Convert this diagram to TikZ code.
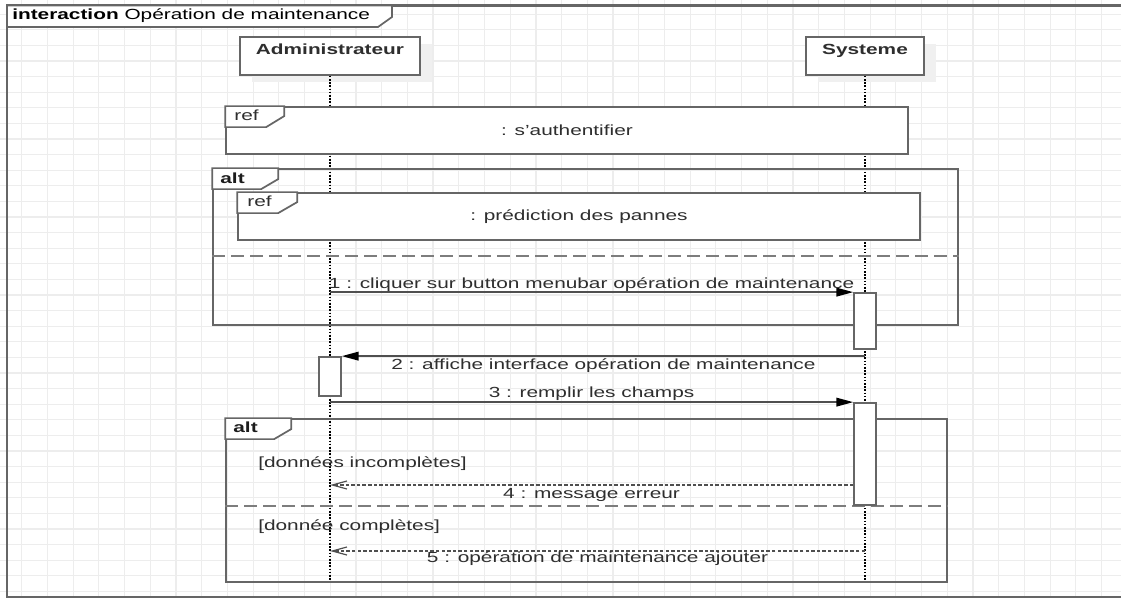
\documentclass[tikz,border=0pt]{standalone}
\usepackage{fontspec}
\setmainfont{Liberation Sans}[FakeStretch=1.42]
\usetikzlibrary{arrows.meta,calc,shadows}

\definecolor{gridgray}{HTML}{EDEDED}
\definecolor{linegray}{HTML}{666666}
\definecolor{msggray}{HTML}{4F4F4F}
\definecolor{txtgray}{HTML}{2E2E2E}
\definecolor{shadowgray}{HTML}{F0F0F0}

\begin{document}
\begin{tikzpicture}[
  x=0.75pt, y=-0.75pt,
  every node/.style={text=txtgray, font=\fontsize{11}{13}\selectfont},
  gridline/.style={draw=gridgray, line width=0.9pt},
  outerframe/.style={draw=linegray, line width=1.6pt},
  headbox/.style={draw=linegray, line width=1.3pt, fill=white, inner sep=0pt,
    text height=13.1pt, text depth=15.4pt, minimum height=28.5pt,
    font=\fontsize{11}{13}\selectfont\bfseries,
    drop shadow={shadow xshift=9pt, shadow yshift=-5.25pt, fill=shadowgray, opacity=1}},
  lifeline/.style={draw=black, line width=1.1pt, dash pattern=on 1.2pt off 1.2pt},
  refbox/.style={draw=linegray, line width=1.3pt, fill=white, inner sep=0pt,
    minimum width=511.5pt, minimum height=35.25pt},
  altbox/.style={draw=linegray, line width=1.3pt, inner sep=0pt},
  tabline/.style={draw=linegray, line width=1.3pt, fill=white},
  separator/.style={draw=linegray!85, line width=1.1pt, dash pattern=on 9.75pt off 4.5pt},
  actbox/.style={draw=linegray, line width=1.3pt, fill=white, inner sep=0pt, minimum width=16.5pt},
  callmsg/.style={draw=msggray, line width=1pt, -{Triangle[length=12.5pt,width=6.5pt,black]}},
  replymsg/.style={draw=msggray, line width=0.9pt, dash pattern=on 2.6pt off 1.6pt,
    -{Straight Barb[length=11pt,width=6pt]}},
  lbl/.style={anchor=base, inner sep=0pt},
  kw/.style={font=\fontsize{11}{13}\selectfont\bfseries, text=black},
]
\useasboundingbox (0,0) rectangle (1121,598);
\clip (0,0) rectangle (1121,598);

% background grid
\foreach \i in {0,...,44}
  \draw[gridline] ({-4+25.71*\i},0) -- ({-4+25.71*\i},598);
\foreach \j in {0,...,38}
  \draw[gridline] (0,{14.2+15.6*\j}) -- (1121,{14.2+15.6*\j});

% interaction frame
\coordinate (fNW) at (7,5.5);
\coordinate (fSW) at (7,597);
\coordinate (fNE) at (1130,5.5);
\coordinate (fSE) at (1130,597);
\draw[outerframe] (fNE) -- (fNW) -- (fSW) -- (fSE);
\draw[tabline] (fNW) -- ++(385,0) -- ++(0,11.5) -- ++(-14,10) -- ++(-371,0) -- cycle;
\node[lbl, anchor=base west, text=black] (title) at ($(fNW)+(5,14.5)$)
  {\textbf{interaction} Opération de maintenance};

% participants and lifelines
\node[headbox, minimum width=135pt] (adm) at (330,56) {Administrateur};
\node[headbox, minimum width=88.5pt] (sys) at (865,56) {Systeme};
\coordinate (admEnd) at (330,580);
\coordinate (sysEnd) at (865,580);
\draw[lifeline] (adm.south) -- (admEnd);
\draw[lifeline] (sys.south) -- (sysEnd);

% ref : s'authentifier
\node[refbox] (ref1) at (567,130.5) {: s'authentifier};
\draw[tabline] (ref1.north west) -- ++(59,0) -- ++(0,10) -- ++(-18,11) -- ++(-41,0) -- cycle;
\node[lbl, anchor=base west] (ref1tag) at ($(ref1.north west)+(9,14.5)$) {ref};

% first alt fragment
\node[altbox, minimum width=558.75pt, minimum height=117pt] (alt1) at (585.5,247) {};
\draw[tabline] (alt1.north west) -- ++(66,0) -- ++(0,11) -- ++(-17,10) -- ++(-49,0) -- cycle;
\node[lbl, anchor=base west, kw, text=txtgray!60!black] (alt1tag) at ($(alt1.north west)+(8,15)$) {alt};

\node[refbox] (ref2) at (579,216.5) {: prédiction des pannes};
\draw[tabline] (ref2.north west) -- ++(60,0) -- ++(0,10) -- ++(-19,11) -- ++(-41,0) -- cycle;
\node[lbl, anchor=base west] (ref2tag) at ($(ref2.north west)+(10,14.7)$) {ref};

\coordinate (sepA) at (0,256);
\draw[separator] (alt1.west |- sepA) -- (alt1.east |- sepA);

% second alt fragment
\node[altbox, minimum width=540.75pt, minimum height=122.25pt] (alt2) at (586.5,500.5) {};
\draw[tabline] (alt2.north west) -- ++(66,0) -- ++(0,11) -- ++(-17,10) -- ++(-49,0) -- cycle;
\node[lbl, anchor=base west, kw, text=txtgray!60!black] (alt2tag) at ($(alt2.north west)+(8,14.3)$) {alt};

\coordinate (sepB) at (0,506);
\draw[separator] (alt2.west |- sepB) -- (alt2.east |- sepB);

\node[lbl, anchor=base west] (g1) at (258,467) {[données incomplètes]};
\node[lbl, anchor=base west] (g2) at (258,530) {[donnée complètes]};

% activations
\node[actbox, minimum height=42pt] (act1) at (865,321) {};
\node[actbox, minimum height=29.25pt] (act0) at (330,376.5) {};
\node[actbox, minimum height=76.5pt] (act2) at (865,454) {};

% messages
\draw[callmsg] (act1.north west -| adm) -- (act1.north west)
  node[lbl, midway, yshift=2.8pt] {1 : cliquer sur button menubar opération de maintenance};
\draw[callmsg] (act0.north east -| sys) -- (act0.north east)
  node[lbl, midway, yshift=-10.3pt] {2 : affiche interface opération de maintenance};
\draw[callmsg] (act2.north west -| adm) -- (act2.north west)
  node[lbl, midway, yshift=3.5pt] {3 : remplir les champs};

\coordinate (m4) at (0,485);
\draw[replymsg] (act2.west |- m4) -- (adm |- m4)
  node[lbl, midway, yshift=-10pt] {4 : message erreur};
\coordinate (m5) at (0,551);
\draw[replymsg] (sys |- m5) -- (adm |- m5)
  node[lbl, midway, yshift=-8.5pt] {5 : opération de maintenance ajouter};
\end{tikzpicture}
\end{document}
